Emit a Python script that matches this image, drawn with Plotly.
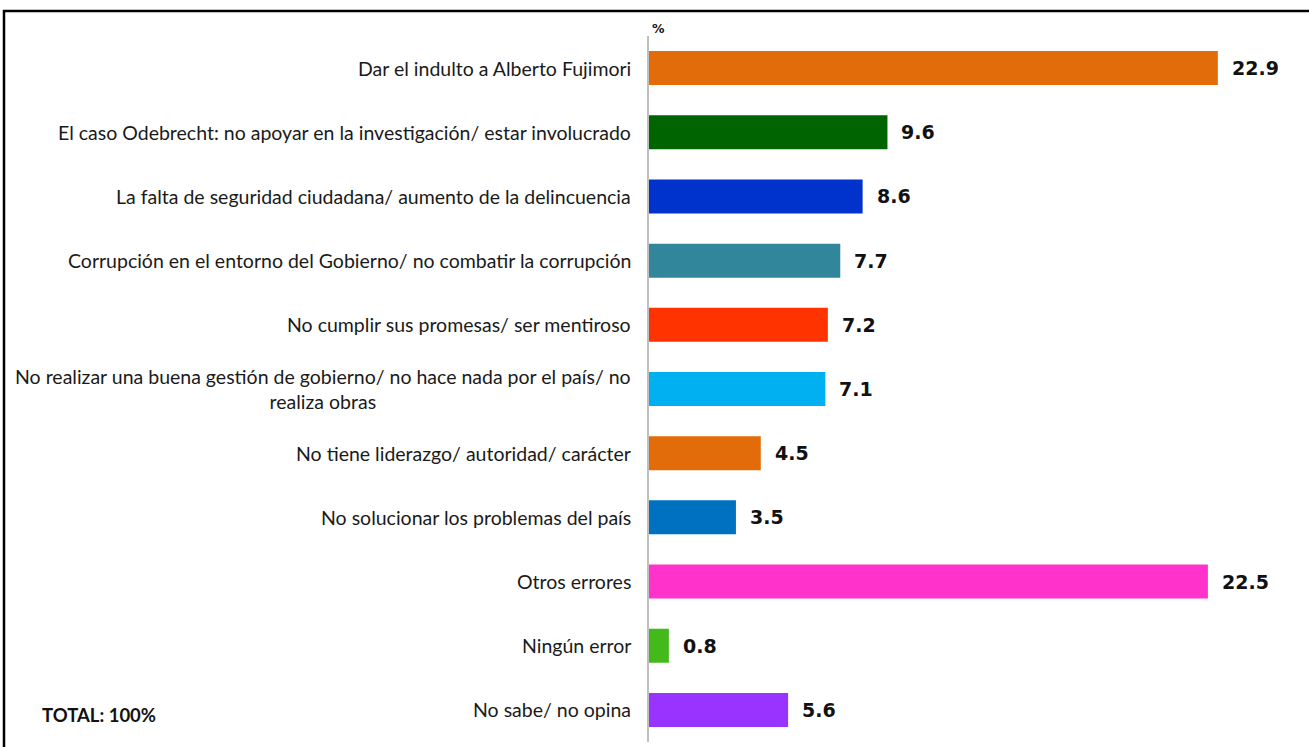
import plotly.graph_objects as go

categories = [
    "Dar el indulto a Alberto Fujimori",
    "El caso Odebrecht: no apoyar en la investigación/ estar involucrado",
    "La falta de seguridad ciudadana/ aumento de la delincuencia",
    "Corrupción en el entorno del Gobierno/ no combatir la corrupción",
    "No cumplir sus promesas/ ser mentiroso",
    "No realizar una buena gestión de gobierno/ no hace nada por el país/ no<br>realiza obras",
    "No tiene liderazgo/ autoridad/ carácter",
    "No solucionar los problemas del país",
    "Otros errores",
    "Ningún error",
    "No sabe/ no opina",
]
values = [22.9, 9.6, 8.6, 7.7, 7.2, 7.1, 4.5, 3.5, 22.5, 0.8, 5.6]
colors = ["#E36C0A", "#006400", "#0033CC", "#31869B", "#FF3300", "#00B0F0",
          "#E36C0A", "#0070C0", "#FF33CC", "#43B91B", "#9933FF"]
unit_label = "%"
total_label = "TOTAL: 100%"

ids = list(range(len(categories)))

fig = go.Figure(go.Bar(
    x=values, y=ids, orientation="h",
    marker=dict(color=colors, line=dict(width=0)),
    hoverinfo="skip",
))

for i, (c, v) in enumerate(zip(categories, values)):
    fig.add_annotation(
        x=0, y=i, xref="x", yref="y", text=c, showarrow=False,
        xanchor="right", yanchor="middle", align="center", xshift=-16,
        font=dict(family="Lato", size=19.5, color="#1a1a1a"),
    )
    fig.add_annotation(
        x=v, y=i, xref="x", yref="y", text=f"{v:.1f}", showarrow=False,
        xanchor="left", yanchor="middle", xshift=12,
        font=dict(family="DejaVu Sans", size=19, color="#111111", weight="bold"),
    )

fig.add_annotation(
    x=0, y=1, xref="paper", yref="paper", text=f"<b>{unit_label}</b>", showarrow=False,
    xanchor="left", yanchor="bottom", xshift=1, yshift=-2,
    font=dict(family="DejaVu Sans", size=12.5, color="#111111"),
)

fig.update_layout(
    width=1309, height=747,
    margin=dict(l=649, r=39, t=36, b=5),
    plot_bgcolor="white", paper_bgcolor="white",
    bargap=0.47,
    showlegend=False,
    xaxis=dict(range=[0, 25], visible=False, fixedrange=True),
    yaxis=dict(range=[len(categories) - 0.5, -0.5], showticklabels=False,
               showgrid=False, zeroline=False, showline=True,
               linecolor="#BFBFBF", linewidth=2, ticks="", fixedrange=True),
)

# TOTAL label
fig.add_annotation(
    x=(40 - 649) / 621, y=(742 - 715) / 706, xref="paper", yref="paper",
    text=f"<b>{total_label}</b>", showarrow=False, xanchor="left", yanchor="middle",
    font=dict(family="Lato", size=18.5, color="#111111"),
)

# outer frame
fig.add_shape(type="rect", xref="paper", yref="paper",
              x0=(4 - 649) / 621, x1=(1314 - 649) / 621,
              y0=(742 - 760) / 706, y1=(742 - 11) / 706,
              line=dict(color="black", width=2.5), fillcolor="rgba(0,0,0,0)",
              layer="above")

fig.write_html(
    "out.html",
    config={"displayModeBar": False},
    post_script="document.body.style.margin='0';document.body.style.overflow='hidden';",
)
